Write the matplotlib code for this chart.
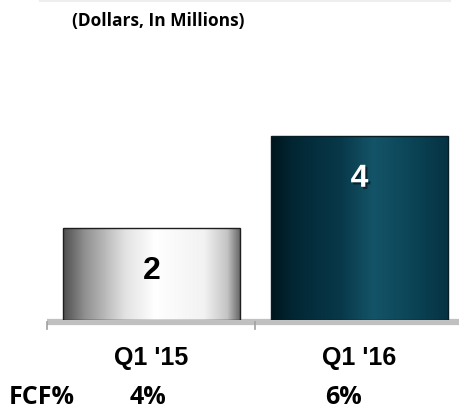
import matplotlib.pyplot as plt
import numpy as np
import matplotlib.patheffects as pe
from matplotlib.colors import LinearSegmentedColormap
from matplotlib.lines import Line2D

# data
quarters = ["Q1 '15", "Q1 '16"]
fcf_values = [2, 4]
fcf_pct = ['4%', '6%']

W, H = 460, 413
fig = plt.figure(figsize=(W / 100, H / 100), dpi=100)
ax = fig.add_axes([47.5 / W, (H - 320) / H, 1 - 47.5 / W, 230 / H])
xlim = (-0.5, (460 - 151.5) / 208)
ax.axis('off')

# gradients for bars (horizontal)
gray_cmap = LinearSegmentedColormap.from_list('g', [
    (0.0, '#4e4e4e'), (0.12, '#8f8f8f'), (0.35, '#e2e2e2'),
    (0.52, '#ffffff'), (0.8, '#f2f2f2'), (0.93, '#c4c4c4'), (1.0, '#6a6a6a')])
teal_cmap = LinearSegmentedColormap.from_list('t', [
    (0.0, '#00151c'), (0.12, '#022633'), (0.4, '#08394a'),
    (0.58, '#145468'), (0.8, '#0b4456'), (1.0, '#063343')])
cmaps = [gray_cmap, teal_cmap]
edges = ['#1e1e1e', '#061e26']
txt_colors = ['black', 'white']

grad = np.linspace(0, 1, 256).reshape(1, -1)
bars = ax.bar(range(len(quarters)), fcf_values, width=0.85,
              color='none', edgecolor='none', zorder=2)
for i, b in enumerate(bars):
    x0, w, h = b.get_x(), b.get_width(), b.get_height()
    im = ax.imshow(grad, cmap=cmaps[i], aspect='auto',
                   extent=[x0, x0 + w, 0, h], zorder=2)
    im.set_clip_path(b)
    ax.add_patch(plt.Rectangle((x0, 0), w, h, fill=False,
                               edgecolor=edges[i], lw=1.0, zorder=3))
    effects = []
    if i == 1:
        effects = [pe.withSimplePatchShadow(offset=(1.5, -1.5), shadow_rgbFace='black', alpha=0.5)]
    ax.text(i, h - 0.93, str(fcf_values[i]), ha='center', va='center',
            fontsize=23, fontweight='bold', color=txt_colors[i],
            family='Liberation Sans', zorder=4, path_effects=effects)
ax.set_ylim(0, 5)
ax.set_xlim(*xlim)

# baseline and ticks
ax.plot([xlim[0], xlim[1]], [-0.035, -0.035], color='#c0c0c0', lw=4.5,
        zorder=1, clip_on=False, solid_capstyle='butt')
for xt in [-0.5, 0.5]:
    ax.plot([xt, xt], [-0.05, -0.19], color='#a0a0a0', lw=1.2, clip_on=False)

# category labels
for i, q in enumerate(quarters):
    fig.text((151.5 + 208 * i) / W, 1 - 358 / H, q, ha='center', va='center',
             fontsize=18, fontweight='bold', family='Liberation Sans')

# FCF% row
fig.text(9 / W, 1 - 398 / H, 'FCF%', ha='left', va='center',
         fontsize=18, fontweight='bold', family='Open Sans')
for xc, p in zip([148.5, 343.5], fcf_pct):
    fig.text(xc / W, 1 - 398 / H, p, ha='center', va='center',
             fontsize=18, fontweight='bold', family='Open Sans')

# subtitle and faint top line
fig.text(72 / W, 1 - 21 / H, '(Dollars, In Millions)', ha='left', va='center',
         fontsize=12.5, fontweight='bold', family='Open Sans')
fig.add_artist(Line2D([40 / W, 450 / W], [1 - 0.5 / H, 1 - 0.5 / H],
                      color='#eeeeee', lw=1.5))

fig.savefig('out.png', dpi=100)
